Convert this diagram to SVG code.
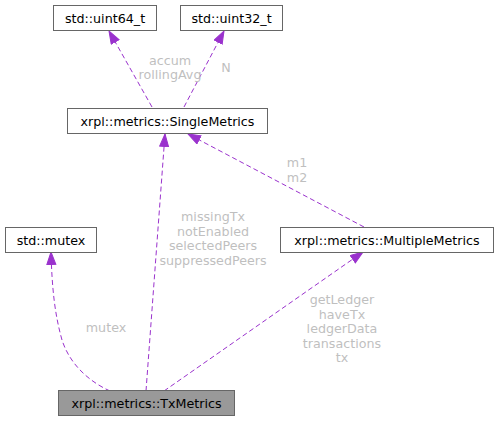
<svg xmlns="http://www.w3.org/2000/svg" width="499" height="421" viewBox="0 0 499 421">
<style>
.n rect{fill:#fff;stroke:#666;stroke-width:1}
.n text{font-family:"DejaVu Sans",sans-serif;font-size:12.7px;fill:#000;text-anchor:middle}
.e path{fill:none;stroke:#9a32cd;stroke-width:1;stroke-dasharray:5,3;marker-end:url(#a)}
.l{font-family:"DejaVu Sans",sans-serif;font-size:12.7px;fill:#bfbfbf;text-anchor:middle}
</style>
<defs>
<marker id="a" markerWidth="14" markerHeight="11" refX="13" refY="5" orient="auto" markerUnits="userSpaceOnUse"><path d="M0.5,0.5 L13,5 L0.5,9.5 z" fill="#9a32cd" stroke="#9a32cd" stroke-width="1"/></marker>
</defs>
<rect width="499" height="421" fill="#fff"/>
<g class="e" id="edges">
<path d="M152,107 L109,31"/>
<path d="M184,107 L224,31"/>
<path d="M364,227 L188,134"/>
<path d="M110,391 C90,382 70,365 62,340 C55,315 52,290 51,252"/>
<path d="M146,391 L165,134"/>
<path d="M164,391 L363,252"/>
</g>
<g id="labels">
<text class="l" x="170" y="65">accum</text>
<text class="l" x="170" y="79">rollingAvg</text>
<text class="l" x="226" y="72">N</text>
<text class="l" x="297" y="167">m1</text>
<text class="l" x="297" y="182">m2</text>
<text class="l" x="106" y="332">mutex</text>
<text class="l" x="213" y="221">missingTx</text>
<text class="l" x="213" y="236">notEnabled</text>
<text class="l" x="213" y="250">selectedPeers</text>
<text class="l" x="213" y="265">suppressedPeers</text>
<text class="l" x="342" y="304">getLedger</text>
<text class="l" x="342" y="319">haveTx</text>
<text class="l" x="342" y="333">ledgerData</text>
<text class="l" x="342" y="348">transactions</text>
<text class="l" x="342" y="362">tx</text>
</g>
<g class="n" id="uint64"><rect x="53.5" y="5.5" width="103" height="25"/><text x="105" y="23">std::uint64_t</text></g>
<g class="n" id="uint32"><rect x="180.5" y="5.5" width="102" height="25"/><text x="231.5" y="23">std::uint32_t</text></g>
<g class="n" id="single"><rect x="67.5" y="108.5" width="200" height="25"/><text x="167.5" y="126">xrpl::metrics::SingleMetrics</text></g>
<g class="n" id="mutex"><rect x="5.5" y="227.5" width="91" height="25"/><text x="51" y="245">std::mutex</text></g>
<g class="n" id="multiple"><rect x="280.5" y="227.5" width="213" height="25"/><text x="387" y="245">xrpl::metrics::MultipleMetrics</text></g>
<g class="n" id="tx"><rect x="58.5" y="390.5" width="176" height="25" style="fill:#999"/><text x="146.5" y="408">xrpl::metrics::TxMetrics</text></g>
</svg>
